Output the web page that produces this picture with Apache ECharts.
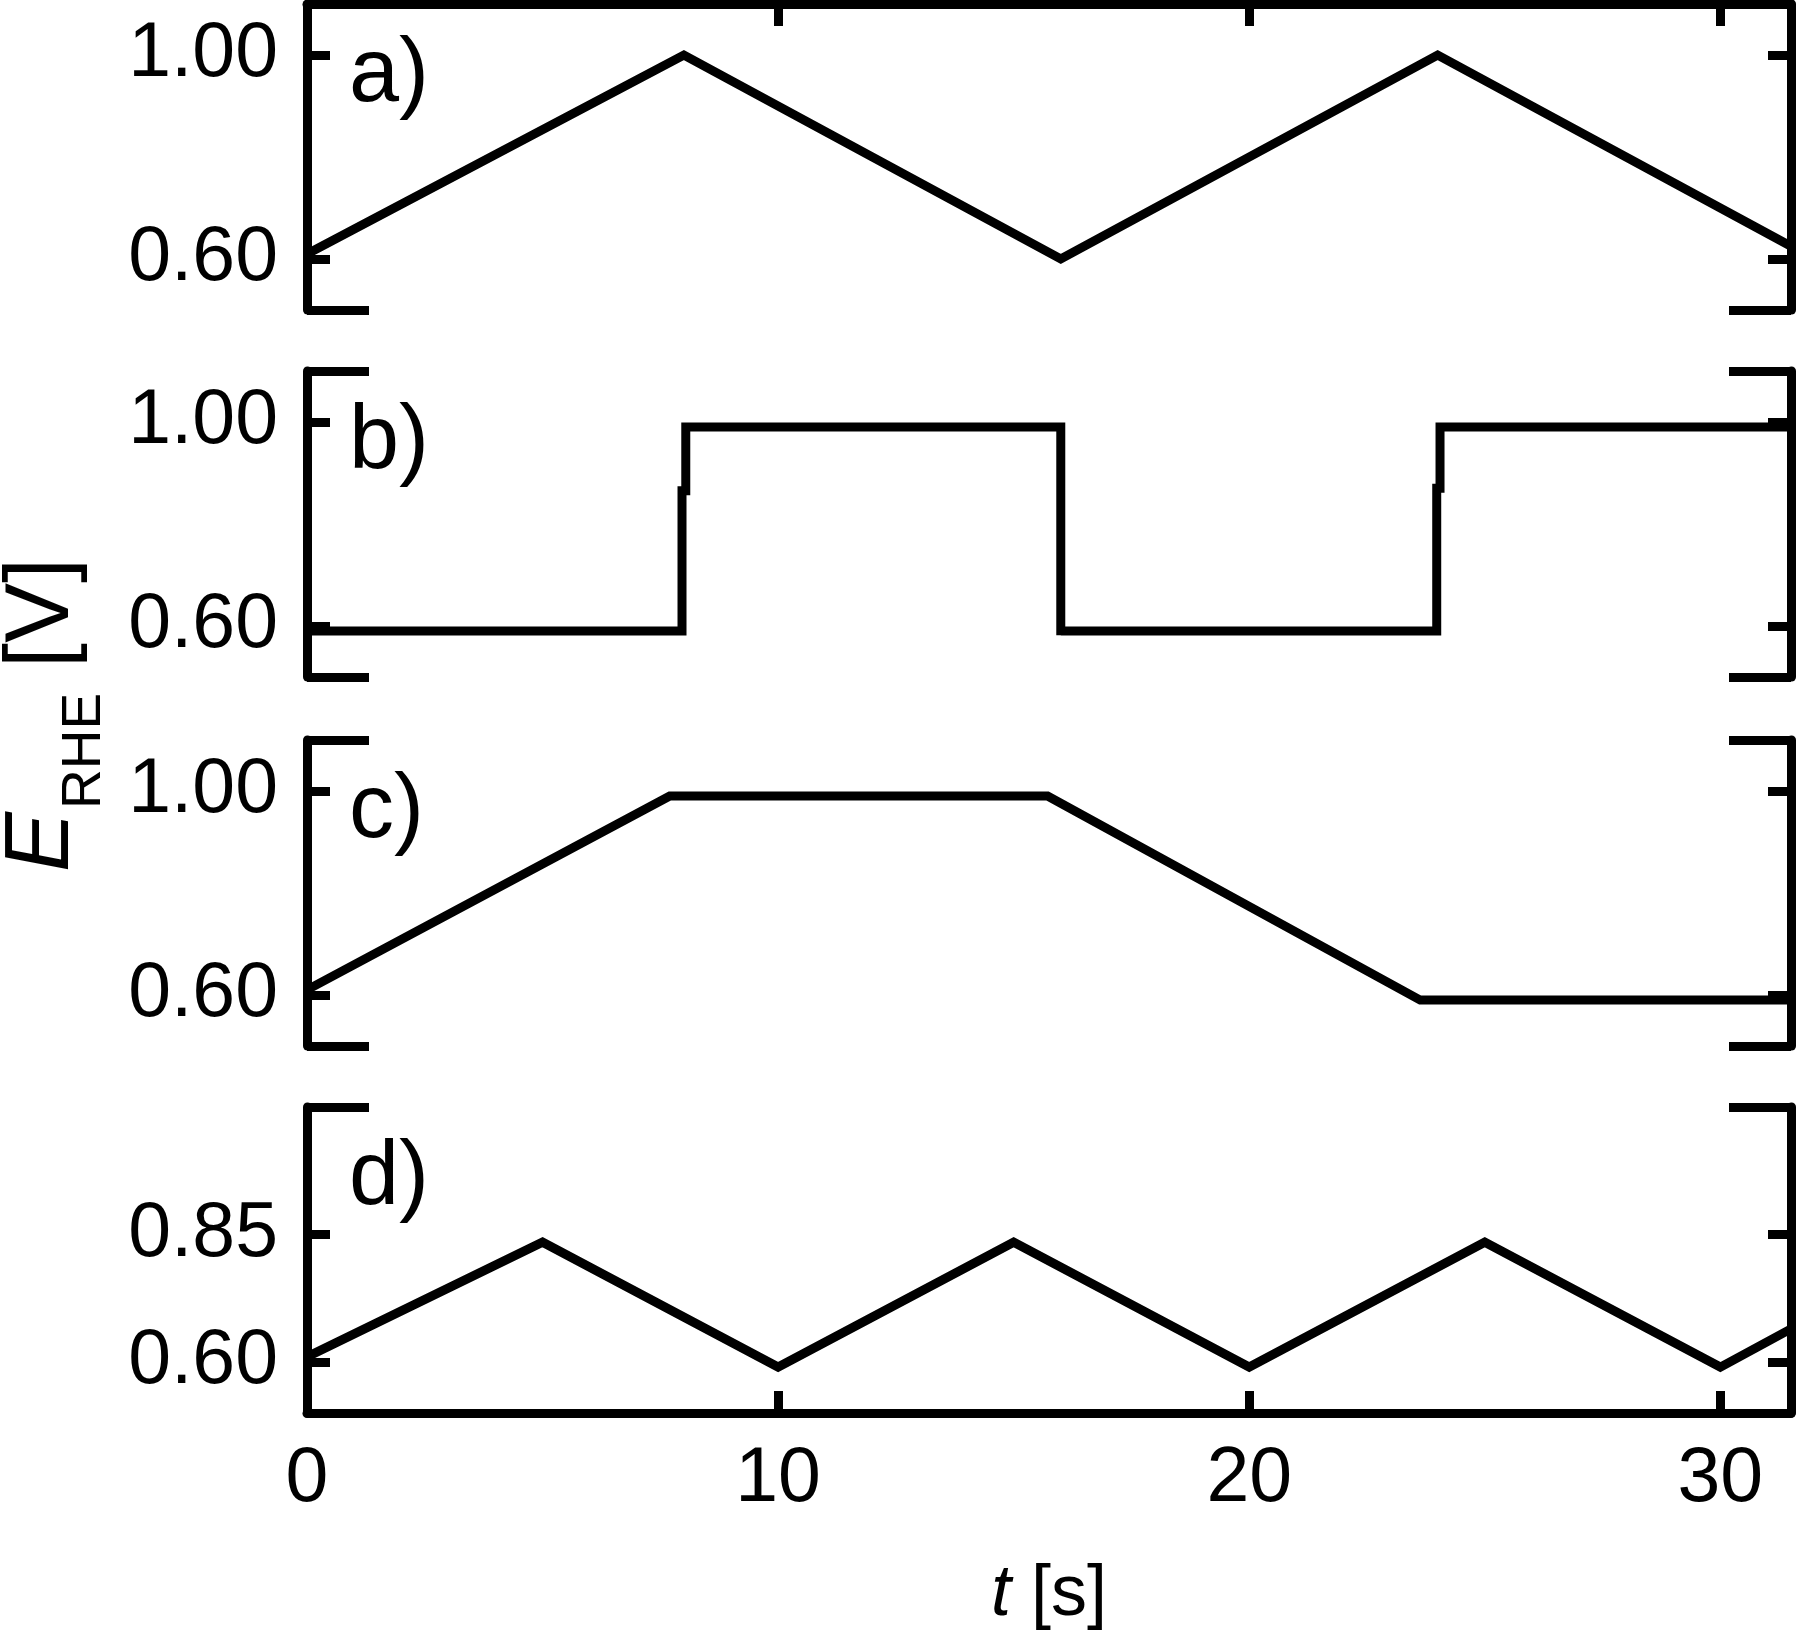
<!DOCTYPE html>
<html>
<head>
<meta charset="utf-8">
<script src="https://cdn.jsdelivr.net/npm/echarts@6/dist/echarts.min.js"></script>
<style>
html,body{margin:0;padding:0;background:#fff;}
#chart{width:1800px;height:1641px;}
</style>
</head>
<body>
<div id="chart"></div>
<script>
// ---- data (t in s, E in V) ----
const panelNames = ['a)', 'b)', 'c)', 'd)'];
const tA = [0, 8, 16, 24, 31.5];
const eA = [0.61, 1.00, 0.60, 1.00, 0.625];
const tB = [0, 7.96, 7.96, 8.04, 8.04, 16.0, 16.0, 16.0, 16.05, 23.98, 23.98, 24.05, 24.05, 31.5];
const eB = [0.59, 0.59, 0.865, 0.865, 0.99, 0.99, 0.582, 0.59, 0.59, 0.59, 0.87, 0.87, 0.99, 0.99];
const tC = [0, 7.7, 15.72, 23.63, 31.5];
const eC = [0.61, 0.99, 0.99, 0.59, 0.59];
const tD = [0, 5, 10, 15, 20, 25, 30, 31.5];
const eD = [0.61, 0.835, 0.59, 0.835, 0.59, 0.835, 0.59, 0.665];
const yTicksABC = [0.60, 1.00];
const yTicksD = [0.60, 0.85];
const xTicks = [0, 10, 20, 30];
const yMin = 0.5, yMax = 1.1, xMin = 0, xMax = 31.5;

const panelsT = [tA, tB, tC, tD];
const panelsE = [eA, eB, eC, eD];
const panelYTicks = [yTicksABC, yTicksABC, yTicksABC, yTicksD];

const FONT = 'Liberation Sans, Arial, sans-serif';
const LW = 9;
const gridTops = [4, 371, 740, 1107];
const gridH = 306;

const grid = [], xAxis = [], yAxis = [], series = [], graphic = [];
for (let i = 0; i < 4; i++) {
  grid.push({left: 307, right: 9, top: gridTops[i], height: gridH, containLabel: false});
  const isTop = i === 0, isBottom = i === 3;
  xAxis.push({
    type: 'value', gridIndex: i, min: xMin, max: xMax, interval: 10,
    position: isTop ? 'top' : 'bottom',
    show: isTop || isBottom,
    axisLine: {show: isTop || isBottom, lineStyle: {color: '#000', width: LW}},
    axisTick: {show: true, inside: true, length: 22, lineStyle: {color: '#000', width: LW}, customValues: [10, 20, 30]},
    axisLabel: {show: isBottom, customValues: xTicks, margin: 28, color: '#000', fontSize: 77, fontFamily: FONT},
    splitLine: {show: false},
    name: isBottom ? '{i|t} [s]' : '',
    nameLocation: 'middle', nameGap: 146,
    nameTextStyle: {color: '#000', fontSize: 72, fontFamily: FONT,
      rich: {i: {fontStyle: 'italic', fontSize: 72, fontFamily: FONT, color: '#000'}}}
  });
  const stubVals = isTop ? [yMin] : (isBottom ? [yMax] : [yMin, yMax]);
  const base = yAxis.length;
  ['left', 'right'].forEach(function (pos) {
    yAxis.push({
      type: 'value', gridIndex: i, min: yMin, max: yMax, position: pos,
      axisLine: {show: true, lineStyle: {color: '#000', width: LW}},
      axisTick: {show: true, inside: true, length: 23, lineStyle: {color: '#000', width: LW}, customValues: panelYTicks[i]},
      axisLabel: {show: pos === 'left', customValues: panelYTicks[i], margin: 29, color: '#000', fontSize: 77, fontFamily: FONT,
        formatter: function (v) { return v.toFixed(2); }},
      splitLine: {show: false}
    });
    yAxis.push({
      type: 'value', gridIndex: i, min: yMin, max: yMax, position: pos,
      axisLine: {show: false},
      axisTick: {show: true, inside: true, length: 62, lineStyle: {color: '#000', width: LW}, customValues: stubVals},
      axisLabel: {show: false},
      splitLine: {show: false}
    });
  });
  series.push({
    type: 'line', xAxisIndex: i, yAxisIndex: base, showSymbol: false, symbol: 'none',
    lineStyle: {color: '#000', width: LW, join: 'miter'},
    data: panelsT[i].map(function (t, k) { return [t, panelsE[i][k]]; }),
    animation: false
  });
  graphic.push({
    type: 'text', left: 349, top: gridTops[i] + 27,
    style: {text: panelNames[i], fill: '#000', font: '90px ' + FONT}
  });
}

// y axis title: E_RHE [V], rotated
graphic.push({
  type: 'group', x: 74, y: 872, rotation: Math.PI / 2,
  children: [
    {type: 'text', x: 0, y: 0, style: {text: 'E', fill: '#000', font: 'italic 90px ' + FONT, verticalAlign: 'middle', y: -31}},
    {type: 'text', x: 63, y: 0, style: {text: 'RHE', fill: '#000', font: '55px ' + FONT, verticalAlign: 'middle', y: 30 - 19}},
    {type: 'text', x: 204, y: 0, style: {text: '[V]', fill: '#000', font: '90px ' + FONT, verticalAlign: 'middle', y: -31}}
  ]
});

const chart = echarts.init(document.getElementById('chart'), null, {renderer: 'canvas'});
chart.setOption({
  animation: false,
  backgroundColor: '#fff',
  grid: grid, xAxis: xAxis, yAxis: yAxis, series: series, graphic: graphic
});
</script>
</body>
</html>
